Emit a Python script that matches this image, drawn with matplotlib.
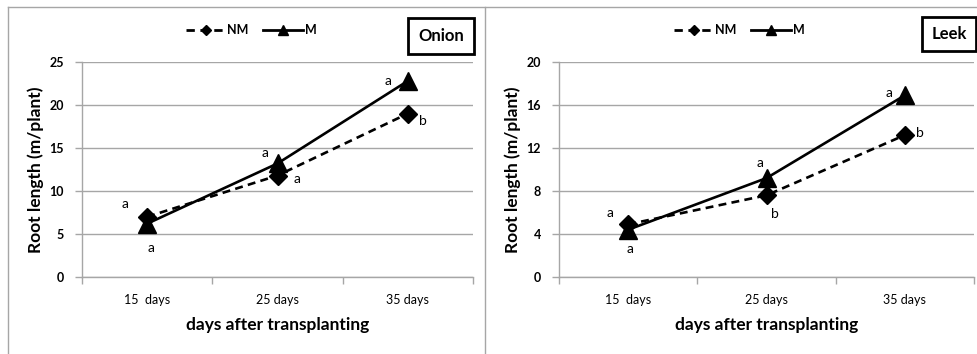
import matplotlib
matplotlib.use("Agg")
import matplotlib.pyplot as plt
from matplotlib.lines import Line2D

plt.rcParams['font.family'] = ['Lato', 'DejaVu Sans']

# Données : longueur racinaire (m/plant) à 15, 25 et 35 jours
jours = ['15  days', '25 days', '35 days']

oignon_nm = [7.0, 11.8, 19.0]
oignon_m = [6.2, 13.2, 22.8]
oignon_lettres_nm = ['a', 'a', 'b']
oignon_lettres_m = ['a', 'a', 'a']

poireau_nm = [4.9, 7.6, 13.2]
poireau_m = [4.4, 9.2, 16.9]
poireau_lettres_nm = ['a', 'b', 'b']
poireau_lettres_m = ['a', 'a', 'a']

oignon_yticks = [0, 5, 10, 15, 20, 25]
poireau_yticks = [0, 4, 8, 12, 16, 20]

GRIS = '#a6a6a6'


# Trace un panneau (une culture) avec les deux traitements
def tracer_panneau(ax, nm, m, lettres_nm, lettres_m, yticks, decal_nm, decal_m):
    x = range(len(jours))
    ax.plot(x, nm, color='black', linestyle=(0, (3, 2)), linewidth=1.9,
            marker='D', markersize=9.5, zorder=3)
    ax.plot(x, m, color='black', linestyle='-', linewidth=1.9,
            marker='^', markersize=13, zorder=4)

    # lettres de significativité (décalages en pixels)
    for i in x:
        ax.annotate(lettres_nm[i], (i, nm[i]), xytext=decal_nm[i],
                    textcoords='offset pixels', ha='center', va='center', fontsize=10)
        ax.annotate(lettres_m[i], (i, m[i]), xytext=decal_m[i],
                    textcoords='offset pixels', ha='center', va='center', fontsize=10)

    ax.set_xlim(-0.5, len(jours) - 0.5)
    ax.set_ylim(yticks[0], yticks[-1])
    ax.set_xticks(list(x))
    ax.set_xticklabels(jours, fontsize=9)
    ax.set_xticks([-0.5, 0.5, 1.5, 2.5], minor=True)
    ax.tick_params(axis='x', which='major', length=0, pad=12)
    ax.tick_params(axis='x', which='minor', length=5, color=GRIS, width=1)
    ax.set_yticks(yticks)
    ax.set_yticklabels([str(v) for v in yticks], fontsize=9, fontweight='bold')
    ax.tick_params(axis='y', length=5, color=GRIS, width=1, pad=8)
    ax.grid(axis='y', color=GRIS, linewidth=1)
    ax.set_axisbelow(True)
    for cote in ['top', 'right']:
        ax.spines[cote].set_visible(False)
    for cote in ['left', 'bottom']:
        ax.spines[cote].set_color(GRIS)
        ax.spines[cote].set_linewidth(1)
    ax.set_xlabel('days after transplanting', fontsize=12.5, fontweight='bold', labelpad=8)
    ax.set_ylabel('Root length (m/plant)', fontsize=12.5, fontweight='bold', labelpad=4)


fig = plt.figure(figsize=(9.77, 3.54), dpi=100)
W, H = 977, 354

ax1 = fig.add_axes([82 / W, 1 - 277 / H, 391 / W, 215 / H])
ax2 = fig.add_axes([559 / W, 1 - 277 / H, 415 / W, 215 / H])

tracer_panneau(ax1, oignon_nm, oignon_m, oignon_lettres_nm, oignon_lettres_m, oignon_yticks,
               decal_nm=[(-22, 13), (20, -3), (15, -7)],
               decal_m=[(4, -24), (-12, 10), (-20, 0)])
tracer_panneau(ax2, poireau_nm, poireau_m, poireau_lettres_nm, poireau_lettres_m, poireau_yticks,
               decal_nm=[(-18, 11), (8, -19), (15, 2)],
               decal_m=[(2, -19), (-7, 15), (-16, 2)])

# légendes en haut de chaque panneau
poignees = [Line2D([], [], color='black', linestyle=(0, (3, 2)), linewidth=2, marker='D', markersize=5.5),
            Line2D([], [], color='black', linestyle='-', linewidth=2, marker='^', markersize=7.5)]
for cx in [251 / W, 739 / W]:
    fig.legend(poignees, ['NM', 'M'], loc='center', bbox_to_anchor=(cx, 1 - 30 / H), ncol=2,
               frameon=False, handlelength=3.2, handletextpad=0.1, columnspacing=1.2,
               prop={'weight': 'bold', 'size': 9})

# noms des cultures dans un cadre
fig.text(441 / W, 1 - 36 / H, 'Onion', ha='center', va='center', fontsize=12, fontweight='bold',
         bbox=dict(boxstyle='square,pad=0.6', facecolor='white', edgecolor='black', linewidth=2))
fig.text(949 / W, 1 - 34 / H, 'Leek', ha='center', va='center', fontsize=12, fontweight='bold',
         bbox=dict(boxstyle='square,pad=0.55', facecolor='white', edgecolor='black', linewidth=2))

# cadres des panneaux
fig.add_artist(Line2D([8 / W, 1], [1 - 7 / H, 1 - 7 / H], color=GRIS, linewidth=1))
fig.add_artist(Line2D([8 / W, 8 / W], [0, 1 - 7 / H], color=GRIS, linewidth=1))
fig.add_artist(Line2D([485 / W, 485 / W], [0, 1 - 7 / H], color=GRIS, linewidth=1))

fig.savefig('out.png', dpi=100)
